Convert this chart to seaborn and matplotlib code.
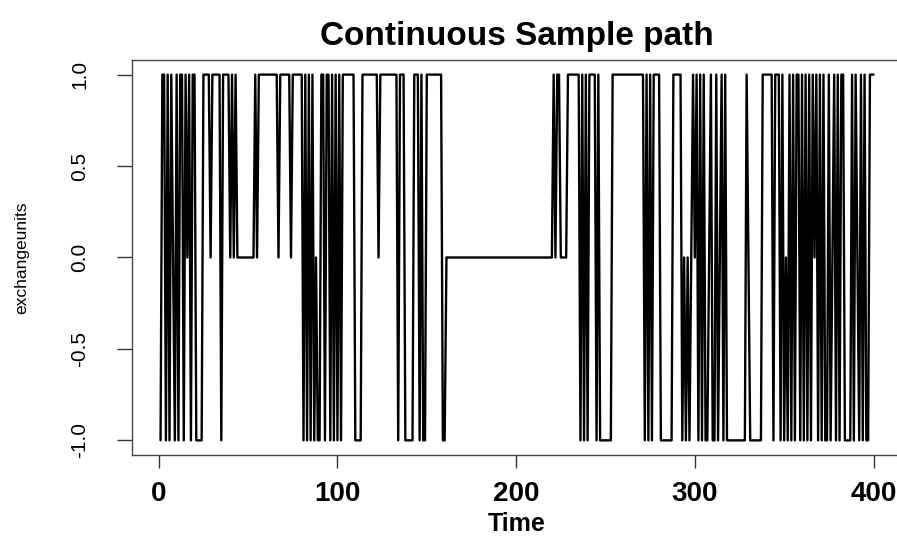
import numpy as np
import pandas as pd
import matplotlib
matplotlib.use("Agg")
import matplotlib.pyplot as plt
import seaborn as sns

# state of the path at each time step in blocks of 20
t001_020 = [-1, 1, 1, -1, 1, -1, 1, 0, -1, 1, -1, 1, 1, -1, 1, 0, 1, -1, 1, 1]
t021_040 = [-1, -1, -1, -1, 1, 1, 1, 1, 0, 1, 1, 1, 1, 1, -1, 1, 1, 1, 1, 0]
t041_060 = [1, 0, 1, 0, 0, 0, 0, 0, 0, 0, 0, 0, 0, 1, 0, 1, 1, 1, 1, 1]
t061_080 = [1, 1, 1, 1, 1, 1, 0, 1, 1, 1, 1, 1, 1, 0, 1, 1, 1, 1, 1, 1]
t081_100 = [-1, 1, -1, 1, -1, 1, -1, 0, -1, -1, 1, 1, -1, 1, 1, -1, 1, -1, 1, -1]
t101_120 = [1, -1, 1, 1, 1, 1, 1, 1, 1, -1, -1, -1, -1, 1, 1, 1, 1, 1, 1, 1]
t121_140 = [1, 1, 0, 1, 1, 1, 1, 1, 1, 1, 1, 1, 1, -1, 1, 1, 1, -1, -1, -1]
t141_160 = [-1, -1, 1, 1, 1, -1, 1, -1, -1, 1, 1, 1, 1, 1, 1, 1, 1, 1, -1, -1]
t161_220 = [0] * 60
t221_240 = [1, 0, 1, 1, 0, 0, 0, 0, 1, 1, 1, 1, 1, 1, 1, -1, 1, -1, 1, -1]
t241_260 = [1, 1, 1, 1, -1, 1, -1, -1, -1, -1, -1, -1, -1, 1, 1, 1, 1, 1, 1, 1]
t261_280 = [1, 1, 1, 1, 1, 1, 1, 1, 1, 1, 1, -1, 1, -1, 1, -1, 1, 1, 1, 1]
t281_300 = [-1, -1, -1, -1, -1, -1, -1, 1, 1, 1, 1, 1, -1, 0, -1, 0, -1, 0, 1, 0]
t301_320 = [1, -1, 1, -1, 1, -1, -1, 0, 1, -1, -1, 1, -1, 0, 1, -1, 1, -1, -1, -1]
t321_340 = [-1, -1, -1, -1, -1, -1, -1, -1, 1, 0, -1, -1, -1, -1, -1, -1, -1, 1, 1, 1]
t341_360 = [1, 1, 1, -1, 1, 1, 1, -1, 1, -1, 0, -1, 1, -1, 1, -1, 1, 1, -1, 1]
t361_380 = [-1, 1, -1, 1, -1, 1, 0, 1, -1, 1, -1, 1, -1, -1, 1, -1, 0, 1, -1, 1]
t381_400 = [-1, 1, 1, -1, -1, -1, -1, 1, -1, 1, 0, -1, 1, -1, 1, -1, -1, 1, 1, 1]

values = (t001_020 + t021_040 + t041_060 + t061_080 + t081_100 + t101_120
          + t121_140 + t141_160 + t161_220 + t221_240 + t241_260 + t261_280
          + t281_300 + t301_320 + t321_340 + t341_360 + t361_380 + t381_400)
time = np.arange(1, len(values) + 1)
df = pd.DataFrame({"Time": time, "exchangeunits": values})

x_ticks = [0, 100, 200, 300, 400]
y_ticks = [-1.0, -0.5, 0.0, 0.5, 1.0]
y_tick_labels = ["-1.0", "-0.5", "0.0", "0.5", "1.0"]

sns.set_style("ticks")
plt.rcParams['font.family'] = ['Liberation Sans', 'DejaVu Sans']
plt.rcParams['axes.unicode_minus'] = False
plt.rcParams['text.color'] = 'black'
plt.rcParams['axes.labelcolor'] = 'black'
plt.rcParams['xtick.labelcolor'] = 'black'
plt.rcParams['ytick.labelcolor'] = 'black'

fig = plt.figure(figsize=(8.97, 5.38), dpi=100)
ax = fig.add_axes([0.1472, 0.1543, 0.8584, 0.7342])

sns.lineplot(data=df, x="Time", y="exchangeunits", ax=ax, color="black",
             linewidth=1.7, estimator=None)

# R style: 4% padding around the data range
ax.set_xlim(1 - 0.04 * 399, 400 + 0.04 * 399)
ax.set_ylim(-1.08, 1.08)

ax.set_xticks(x_ticks)
ax.set_xticklabels([str(v) for v in x_ticks], fontsize=20, fontweight='bold')
ax.set_yticks(y_ticks)
ax.set_yticklabels(y_tick_labels, fontsize=15, rotation=90, va='center')
ax.tick_params(axis='x', direction='out', length=9, width=1, pad=10, color='#333333')
ax.tick_params(axis='y', direction='out', length=11, width=1, pad=20, color='#333333')

for sp in ax.spines.values():
    sp.set_color('#444444')
    sp.set_linewidth(1.0)

ax.set_title("Continuous Sample path", fontsize=24, fontweight='bold', pad=11, color='black')
ax.set_xlabel("Time", fontsize=18, fontweight='bold')
ax.xaxis.set_label_coords(0.5, -0.145)
ax.set_ylabel("exchangeunits", fontsize=12.5)
ax.yaxis.set_label_coords(-0.133, 0.5)

fig.savefig("out.png", dpi=100)
